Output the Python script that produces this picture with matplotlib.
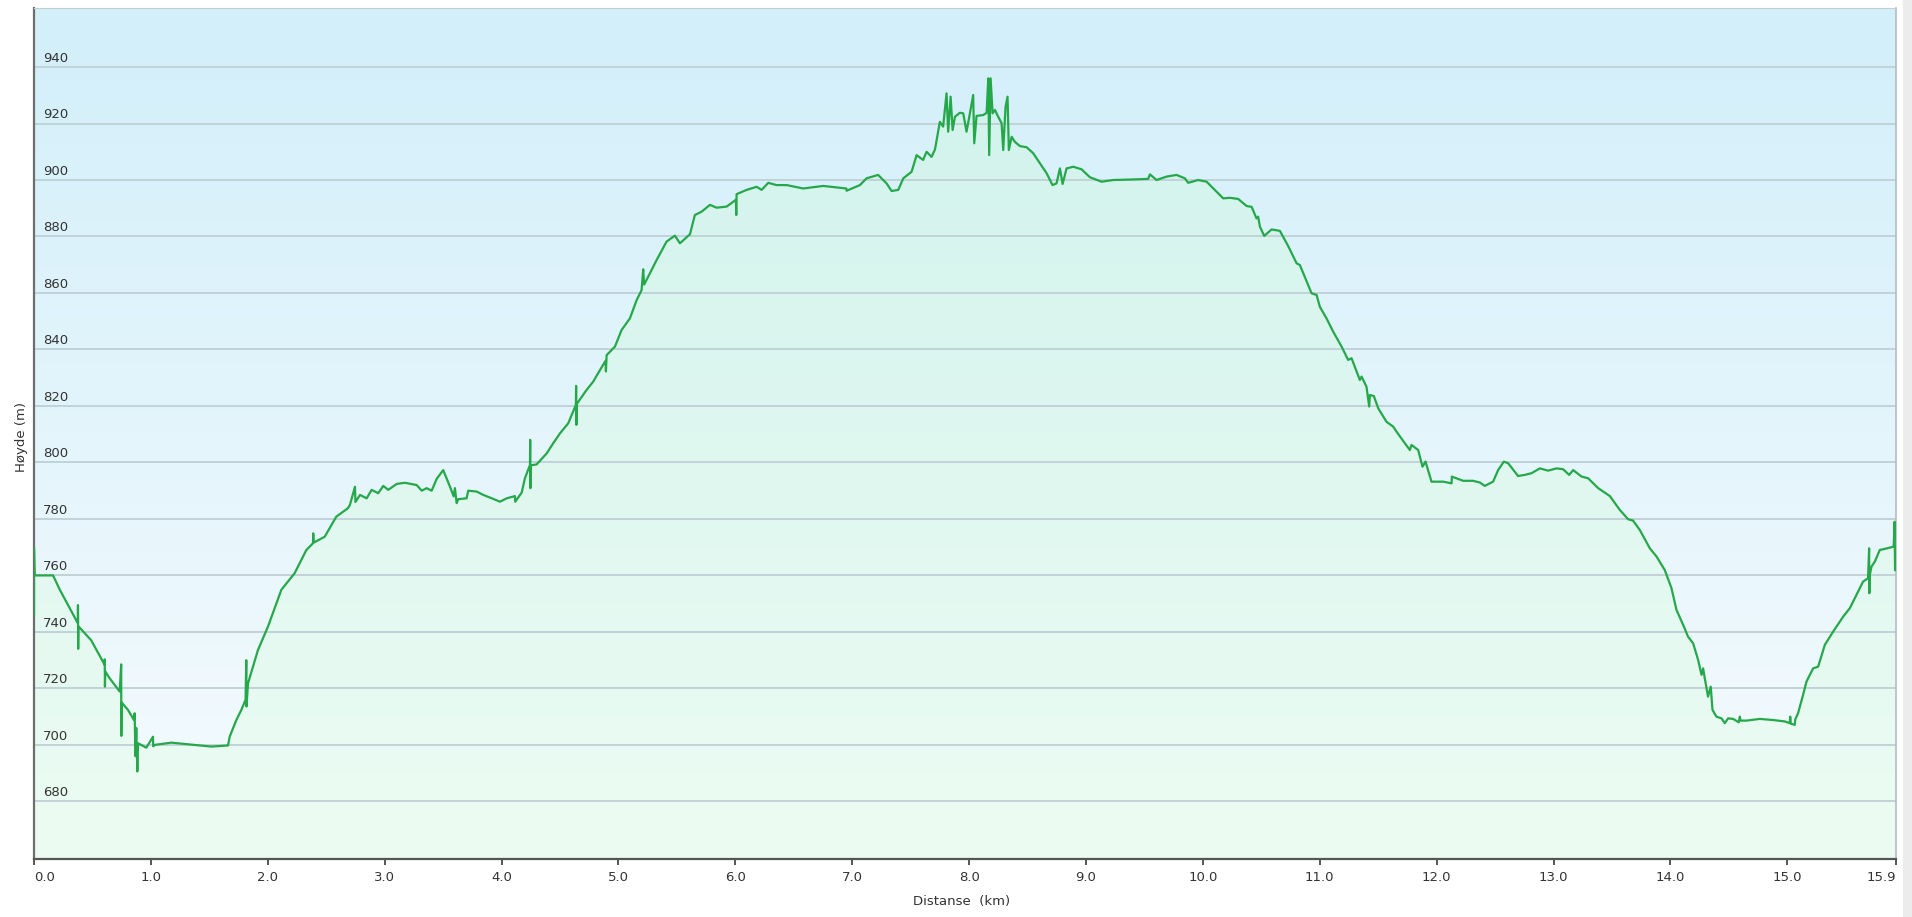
import numpy as np
import matplotlib.pyplot as plt
from matplotlib.patches import Polygon, Rectangle
from matplotlib.colors import to_rgb

# elevation profile in pieces (km, m)
km_1 = [0.0, 0.0, 0.006, 0.163, 0.22, 0.376, 0.376, 0.378, 0.38, 0.49, 0.605, 0.605, 0.607, 0.61,
        0.647, 0.733, 0.746, 0.747, 0.75, 0.804, 0.855, 0.861, 0.868, 0.875, 0.884, 0.89, 0.961,
        1.018, 1.02, 1.032, 1.175, 1.375, 1.517, 1.66, 1.674, 1.731, 1.774, 1.81, 1.816, 1.818,
        1.831, 1.916, 2.002, 2.116, 2.23, 2.33, 2.387, 2.389, 2.392, 2.487, 2.586, 2.686]
m_1 = [746, 770, 760, 760, 755, 743, 749.5, 734, 742, 737, 728.3, 730.3, 720.6, 726,
       723.6, 718.9, 728.5, 703.2, 715, 712.4, 708.8, 711.2, 696, 706, 690.6, 700.6, 699,
       702.9, 699.5, 700, 700.8, 700, 699.4, 699.8, 702.9, 708.8, 712.4, 716, 730, 713.6,
       721.8, 733.6, 741.9, 754.9, 760.8, 769, 771.4, 774.9, 771.6, 773.7, 780.8, 783.8]

km_2 = [2.703, 2.746, 2.75, 2.789, 2.846, 2.889, 2.945, 2.988, 3.031, 3.103, 3.174, 3.274, 3.317,
        3.359, 3.402, 3.445, 3.501, 3.559, 3.59, 3.601, 3.616, 3.63, 3.701, 3.715, 3.787, 3.844,
        3.929, 3.986, 4.044, 4.115, 4.117, 4.172, 4.2, 4.243, 4.245, 4.247, 4.25, 4.3, 4.386,
        4.442, 4.5, 4.571, 4.636, 4.638, 4.64, 4.645, 4.728, 4.784, 4.842, 4.89, 4.893, 4.899,
        4.97, 5.027, 5.098]
m_2 = [785, 791.4, 786, 788.5, 787.3, 790.3, 789.1, 791.7, 790.3, 792.4, 792.8, 792, 790,
       790.9, 790, 794.2, 797.3, 791.4, 788, 790.9, 785.6, 787, 787.3, 790, 789.7, 788.5,
       787.1, 786.1, 787.3, 788.1, 786.1, 789.3, 794.4, 799.1, 808, 790.9, 799, 799.3, 803.2,
       806.8, 810.3, 813.9, 820.4, 827.1, 813.3, 820.8, 825.7, 828.6, 832.7, 836, 832.2, 838,
       841, 846.9, 851]

km_3 = [5.156, 5.198, 5.212, 5.22, 5.255, 5.327, 5.412, 5.483, 5.526, 5.612, 5.654, 5.712, 5.783,
        5.84, 5.926, 6.005, 6.008, 6.011, 6.097, 6.182, 6.225, 6.282, 6.353, 6.439, 6.581, 6.752,
        6.95, 6.952, 7.066, 7.123, 7.222, 7.294, 7.337, 7.394, 7.437, 7.508, 7.551, 7.607, 7.636,
        7.679, 7.708, 7.75]
m_3 = [857.5, 861, 868.4, 863, 865.8, 871.7, 878.2, 880.3, 877.6, 880.8, 887.6, 888.8, 891.2,
       890.2, 890.6, 893, 887.6, 895, 896.5, 897.6, 896.5, 899, 898.2, 898.2, 897, 897.9,
       897, 896.2, 898.2, 900.6, 901.8, 898.8, 896.1, 896.5, 900.6, 902.9, 908.8, 907.1, 910,
       908.2, 910.8, 920.6]

km_4 = [7.778, 7.807, 7.821, 7.842, 7.859, 7.879, 7.921, 7.95, 7.978, 8.007, 8.035, 8.044, 8.064,
        8.121, 8.15, 8.164, 8.172, 8.184, 8.201, 8.221, 8.249, 8.278, 8.292, 8.312, 8.329, 8.34,
        8.364, 8.392, 8.435, 8.492, 8.548, 8.606, 8.663, 8.714, 8.748, 8.777, 8.8, 8.834, 8.891,
        8.962, 9.033, 9.133, 9.233, 9.404, 9.532, 9.547, 9.604, 9.689, 9.775, 9.846, 9.874, 9.96,
        10.032, 10.117, 10.174, 10.231]
m_4 = [918.9, 930.7, 917.1, 929.5, 917.7, 922.4, 923.8, 923.6, 917.1, 923.6, 930.1, 913, 922.7,
       923, 923.8, 936, 908.8, 936, 923.6, 924.8, 922.4, 920.1, 910.6, 925.9, 929.5, 910.6,
       915.3, 913.5, 912, 911.6, 909.5, 905.9, 902.4, 898.2, 898.8, 904.1, 898.6, 904.1, 904.7,
       903.8, 901, 899.4, 900, 900.2, 900.4, 902, 900, 901.2, 901.8, 900.6, 899, 900,
       899.4, 895.9, 893.5, 893.7]

km_5 = [10.302, 10.374, 10.417, 10.459, 10.473, 10.488, 10.525, 10.588, 10.659, 10.73, 10.802,
        10.83, 10.93, 10.973, 11.001, 11.058, 11.115, 11.187, 11.243, 11.272, 11.343, 11.358, 11.4,
        11.423, 11.429, 11.463, 11.5, 11.571, 11.628, 11.657, 11.728, 11.771, 11.785, 11.842,
        11.879, 11.905, 11.956, 12.056, 12.128, 12.13, 12.227, 12.312, 12.37, 12.412, 12.483,
        12.526, 12.575, 12.612, 12.697, 12.754, 12.812, 12.883]
m_5 = [893.3, 890.8, 890.5, 886.4, 887, 883.5, 880.2, 882.5, 882, 876.6, 870.5,
       869.9, 859.9, 859.3, 855.1, 851, 846.3, 841, 836.3, 836.9, 829.2, 830.4, 826.8,
       819.8, 823.9, 823.5, 819.2, 814.4, 812.7, 810.9, 806.8, 804.4, 806.2, 804.4,
       798.5, 800.3, 793.2, 793.2, 792.6, 795, 793.5, 793.5, 792.9, 791.7, 793.2,
       797.3, 800.3, 799.7, 795.2, 795.6, 796.2, 797.9]

km_6 = [12.954, 13.025, 13.082, 13.134, 13.168, 13.24, 13.296, 13.382, 13.482, 13.567, 13.638,
        13.681, 13.738, 13.824, 13.881, 13.952, 14.009, 14.052, 14.109, 14.151, 14.194, 14.237,
        14.266, 14.28, 14.294, 14.322, 14.345, 14.36, 14.394, 14.437, 14.465, 14.494, 14.537,
        14.585, 14.594, 14.6, 14.651, 14.765, 14.879, 14.979, 15.021, 15.025, 15.03, 15.064,
        15.068, 15.092, 15.135, 15.164, 15.221, 15.264, 15.321, 15.392, 15.478, 15.535, 15.592,
        15.648, 15.691, 15.7, 15.702, 15.705, 15.72, 15.749, 15.791, 15.854, 15.91, 15.918, 15.922]
m_6 = [797.1, 797.9, 797.6, 795.6, 797.3, 795, 794.4, 790.9, 788.1, 783.2, 779.9,
       779.4, 776.1, 769.6, 766.7, 761.9, 755.5, 747.8, 742.5, 738.3, 736, 730.1,
       724.8, 727.1, 723.6, 717.1, 720.6, 712.4, 710, 709.4, 707.7, 709.4, 709.2,
       708, 710, 708.6, 708.6, 709.2, 708.8, 708.3, 707.7, 710, 707.5, 707.1,
       709, 711.2, 717.7, 722.4, 727.1, 727.7, 735.4, 740.1, 745.4, 748.4, 753.1,
       757.8, 759, 769.6, 753.7, 760, 763.1, 764.9, 769, 769.6, 770.2, 779, 761.9]

y_ticks = [680, 700, 720, 740, 760, 780, 800, 820, 840, 860, 880, 900, 920, 940]
x_ticks = [0, 1, 2, 3, 4, 5, 6, 7, 8, 9, 10, 11, 12, 13, 14, 15, 15.93]
x_labels = ["0.0", "1.0", "2.0", "3.0", "4.0", "5.0", "6.0", "7.0", "8.0", "9.0", "10.0",
            "11.0", "12.0", "13.0", "14.0", "15.0", "15.9"]

km = km_1 + km_2 + km_3 + km_4 + km_5 + km_6
hoyde = m_1 + m_2 + m_3 + m_4 + m_5 + m_6
assert len(km) == len(hoyde)

y_lo, y_hi = 659.6, 960.9
x_hi = 15.93


def gradient(top, bottom, n=256):
    t = np.linspace(0, 1, n)[:, None]
    c0 = np.array(to_rgb(top))
    c1 = np.array(to_rgb(bottom))
    return (c0 + (c1 - c0) * t)[:, None, :]


fig = plt.figure(figsize=(19.12, 9.17), dpi=100)
ax = fig.add_axes([34 / 1912, 58 / 917, 1862 / 1912, 851 / 917])

# background and area fill
ax.imshow(gradient("#d2effa", "#f6fbfe"), extent=[0, x_hi, y_lo, y_hi],
          aspect="auto", origin="upper", zorder=0, interpolation="bicubic")
verts = [(km[0], y_lo)] + list(zip(km, hoyde)) + [(km[-1], y_lo)]
area = Polygon(verts, closed=True, facecolor="none", edgecolor="none")
ax.add_patch(area)
fill = ax.imshow(gradient("#cff2ec", "#edfcf3"), extent=[0, x_hi, y_lo, y_hi],
                 aspect="auto", origin="upper", zorder=1, interpolation="bicubic")
fill.set_clip_path(area)

for v in y_ticks:
    ax.axhline(v, color="#bfcfd6", lw=1.3, zorder=2)
    ax.text(0.005, v + 1.8, str(v), transform=ax.get_yaxis_transform(),
            ha="left", va="baseline", fontsize=9.5, color="#333333", zorder=4)

ax.plot(km, hoyde, color="#24a84a", lw=1.6, zorder=3)

ax.set_xlim(0, x_hi)
ax.set_ylim(y_lo, y_hi)
ax.set_yticks([])
ax.set_xticks(x_ticks)
ax.set_xticklabels(x_labels)
ax.tick_params(axis="x", direction="out", length=4.5, width=1.4, color="#555555",
               labelsize=9.5, labelcolor="#333333", pad=4)
tl = ax.get_xticklabels()
tl[0].set_ha("left")
tl[-1].set_ha("right")

ax.spines["left"].set_color("#6e6e6e")
ax.spines["left"].set_linewidth(1.6)
ax.spines["bottom"].set_color("#555555")
ax.spines["bottom"].set_linewidth(1.6)
ax.spines["top"].set_color("#c5cdd1")
ax.spines["right"].set_color("#b3bbbf")
ax.spines["right"].set_linewidth(1.2)

fig.text(22 / 1912, 1 - 437 / 917, "Høyde (m)", rotation=90, ha="center", va="center",
         fontsize=9.5, color="#333333")
fig.text(962 / 1912, 1 - 901 / 917, "Distanse  (km)", ha="center", va="center",
         fontsize=9.5, color="#333333")

fig.patches.append(Rectangle((1903 / 1912, 0), 9 / 1912, 1, transform=fig.transFigure,
                             color="#ececec", zorder=0))

fig.savefig("out.png", dpi=100)
